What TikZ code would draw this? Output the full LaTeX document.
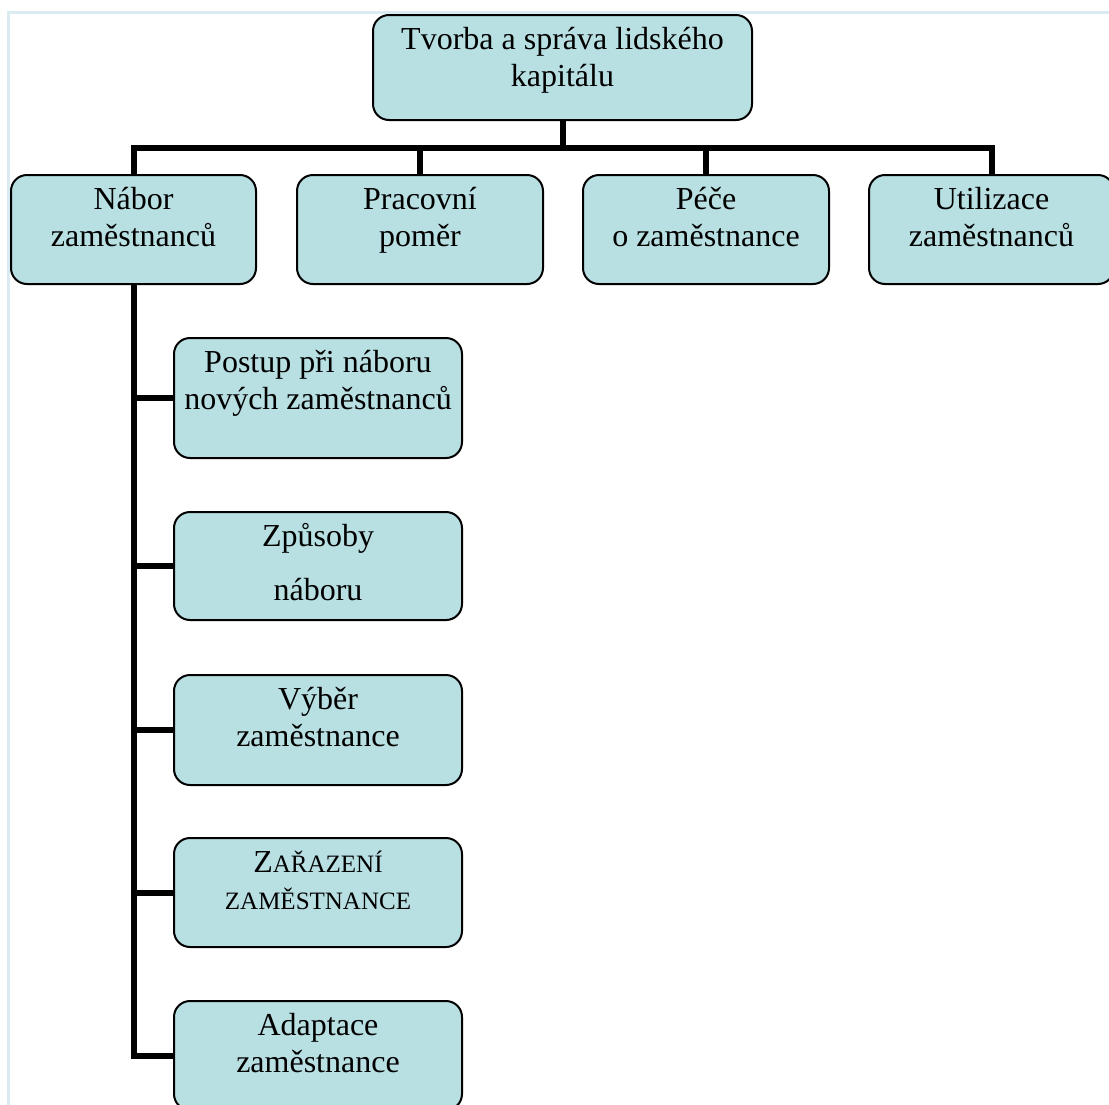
\documentclass[tikz,border=0pt]{standalone}
\usepackage{fontspec}
\setmainfont{Liberation Serif}
\definecolor{boxfill}{RGB}{184,223,226}
\definecolor{framec}{RGB}{218,236,242}
% box text: fixed-size parbox, text hung from the top
\newcommand\btxt[3]{\parbox[c][#2pt][t]{#1pt}{\centering\fontsize{32}{37}\selectfont\rule{0pt}{34pt}#3\par}}
\newcommand\smc[1]{{\fontsize{25}{37}\selectfont #1}}
\tikzset{
  box/.style={draw=black, line width=2pt, fill=boxfill, rounded corners=16pt,
    inner sep=0pt, anchor=north west},
  conn/.style={draw=black, line width=6pt, line join=miter},
}
\begin{document}
\begin{tikzpicture}[x=1pt,y=-1pt]
\useasboundingbox (0,0) rectangle (1109,1104);
\clip (0,0) rectangle (1109,1104);
\fill[white] (0,0) rectangle (1109,1104);
% outer frame (top and left edges)
\draw[framec, line width=3pt] (8,1110) -- (8,12) -- (1115,12);

% boxes
\node[box] (top) at (372,14) {\btxt{379}{105}{Tvorba a správa lidského\\kapitálu}};
\node[box] (nabor) at (10,174) {\btxt{245}{109}{Nábor\\zaměstnanců}};
\node[box] (prac) at (296,174) {\btxt{246}{109}{Pracovní\\poměr}};
\node[box] (pece) at (582,174) {\btxt{246}{109}{Péče\\o zaměstnance}};
\node[box] (util) at (868,174) {\btxt{245}{109}{Utilizace\\zaměstnanců}};
\node[box] (postup) at (173,337) {\btxt{288}{120}{Postup při náboru\\nových zaměstnanců}};
\node[box] (zpus) at (173,511) {\btxt{288}{108}{Způsoby\\[17pt]náboru}};
\node[box] (vyber) at (173,674) {\btxt{288}{110}{Výběr\\zaměstnance}};
\node[box] (zar) at (173,837) {\btxt{288}{109}{Z\smc{AŘAZENÍ}\\\smc{ZAMĚSTNANCE}}};
\node[box] (adapt) at (173,1000) {\btxt{288}{109}{Adaptace\\zaměstnance}};

% horizontal bus under the top box
\coordinate (bus) at (0,148);
\draw[conn] (top.south) -- (top.south |- bus);
\draw[conn] (nabor.north) |- (util.north |- bus) -- (util.north);
\draw[conn] (prac.north) -- (prac.north |- bus);
\draw[conn] (pece.north) -- (pece.north |- bus);

% vertical spine with branches
\draw[conn] (nabor.south) |- (adapt.west);
\draw[conn] (nabor.south |- postup.west) -- (postup.west);
\draw[conn] (nabor.south |- zpus.west) -- (zpus.west);
\draw[conn] (nabor.south |- vyber.west) -- (vyber.west);
\draw[conn] (nabor.south |- zar.west) -- (zar.west);
\end{tikzpicture}
\end{document}
